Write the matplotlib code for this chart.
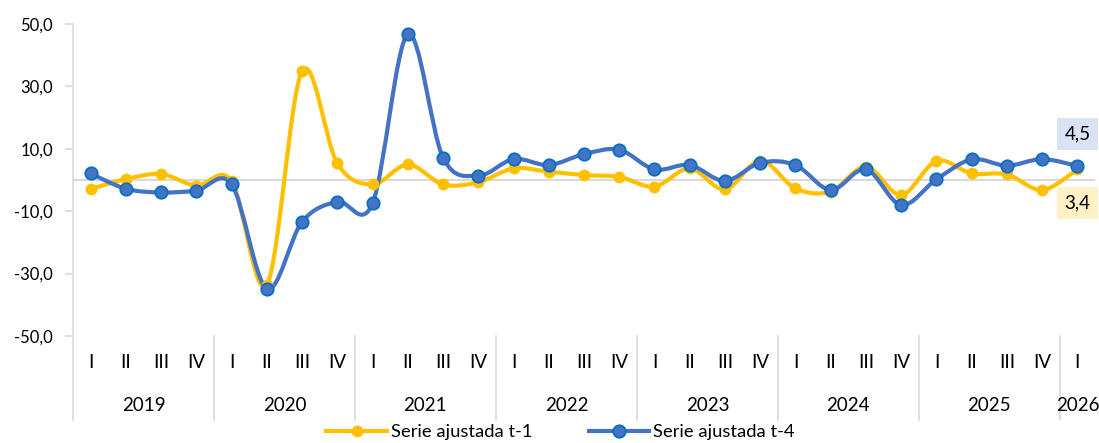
import numpy as np
import matplotlib.pyplot as plt
from matplotlib.path import Path
from matplotlib.patches import PathPatch
from matplotlib.lines import Line2D
import matplotlib.transforms as mtransforms

plt.rcParams['font.family'] = ['Lato', 'DejaVu Sans']

# datos
years = ['2019', '2020', '2021', '2022', '2023', '2024', '2025', '2026']
quarters = ['I', 'II', 'III', 'IV']
n_per_year = [4, 4, 4, 4, 4, 4, 4, 1]

t1 = [-2.9, 0.3, 1.9, -1.8, -0.3, -33.6, 34.9, 5.3, -1.4, 5.0,
      -1.4, -0.7, 3.7, 2.7, 1.6, 1.0, -2.1, 3.7, -3.0, 6.2,
      -2.7, -3.7, 4.3, -4.8, 6.1, 2.1, 1.8, -3.2, 3.4]
t4 = [2.1, -2.8, -4.0, -3.4, -1.4, -34.8, -13.4, -6.9, -7.5, 46.7,
      7.2, 1.4, 6.7, 4.8, 8.3, 9.7, 3.4, 4.8, -0.3, 5.5,
      4.8, -3.2, 3.4, -8.0, 0.2, 6.6, 4.6, 6.7, 4.5]

yellow = '#FFC000'
blue = '#4472C4'
grey = '#D9D9D9'


def smooth_path(x, y):
    # curva suavizada tipo Excel (Bezier por Catmull-Rom)
    pts = np.column_stack([x, y])
    verts = [pts[0]]
    codes = [Path.MOVETO]
    n = len(pts)
    for i in range(n - 1):
        p0 = pts[i - 1] if i > 0 else pts[i]
        p1 = pts[i]
        p2 = pts[i + 1]
        p3 = pts[i + 2] if i + 2 < n else pts[i + 1]
        c1 = p1 + (p2 - p0) / 6
        c2 = p2 - (p3 - p1) / 6
        verts += [c1, c2, p2]
        codes += [Path.CURVE4] * 3
    return Path(verts, codes)


x = np.arange(len(t1))

fig = plt.figure(figsize=(10.99, 4.43), dpi=100)
ax = fig.add_axes([0.0664, 0.2415, 0.930, 0.7043])

ax.axhline(0, color=grey, lw=1.5, zorder=1)

for serie, col, lw in [(t1, yellow, 3.0), (t4, blue, 3.0)]:
    ax.add_patch(PathPatch(smooth_path(x, serie), fill=False, edgecolor=col,
                           lw=lw, capstyle='round', joinstyle='round', zorder=3))
ax.plot(x, t1, 'o', ls='none', color=yellow, ms=7.5, mec=yellow, zorder=4)
ax.plot(x, t4, 'o', ls='none', color=blue, ms=9, mec='#0070C0', mew=1.2, zorder=5)

ax.set_xlim(-0.5, len(t1) - 0.5)
ax.set_ylim(-50, 50)
ax.set_yticks(np.arange(-50, 51, 20))
ax.set_yticklabels([f'{v:.1f}'.replace('.', ',') for v in np.arange(-50, 51, 20)],
                   fontsize=12, color='#000000')
ax.tick_params(axis='y', length=5.5, color=grey, width=1.2, pad=9)
ax.set_xticks([])
for s in ['top', 'right', 'bottom']:
    ax.spines[s].set_visible(False)
ax.spines['left'].set_color(grey)
ax.spines['left'].set_linewidth(1.2)

# eje de categorías en dos niveles
trans = mtransforms.blended_transform_factory(ax.transData, ax.transAxes)
k = 0
bounds = [-0.5]
for yr, n in zip(years, n_per_year):
    for q in range(n):
        ax.text(k + q, -0.085, quarters[q], transform=trans, ha='center',
                va='center', fontsize=13.5)
    ax.text(k + (n - 1) / 2, -0.222, yr, transform=trans, ha='center',
            va='center', fontsize=13.5)
    k += n
    bounds.append(k - 0.5)
for b in bounds[:-1]:
    ax.plot([b, b], [0, -0.27], transform=trans, color=grey, lw=1.2,
            clip_on=False)

# etiquetas del último dato
ax.annotate('4,5', xy=(x[-1], t4[-1]), xytext=(0, 23), textcoords='offset points',
            ha='center', va='center', fontsize=13.5,
            bbox=dict(boxstyle='square,pad=0.4', fc='#DAE3F3', ec='none'),
            annotation_clip=False, zorder=6)
ax.annotate('3,4', xy=(x[-1], t1[-1]), xytext=(0, -24), textcoords='offset points',
            ha='center', va='center', fontsize=13.5,
            bbox=dict(boxstyle='square,pad=0.4', fc='#FFF0C6', ec='none'),
            annotation_clip=False, zorder=6)

handles = [Line2D([], [], color=yellow, lw=3.0, marker='o', ms=7.5, mec=yellow),
           Line2D([], [], color=blue, lw=3.0, marker='o', ms=9, mec='#0070C0', mew=1.2)]
fig.legend(handles, ['Serie ajustada t-1', 'Serie ajustada t-4'], loc='center',
           bbox_to_anchor=(0.51, 0.025), ncol=2, frameon=False, fontsize=13.2,
           handlelength=3.3, handletextpad=0.2, columnspacing=3.1,
           borderpad=0.1)

fig.savefig('out.png', dpi=100)
